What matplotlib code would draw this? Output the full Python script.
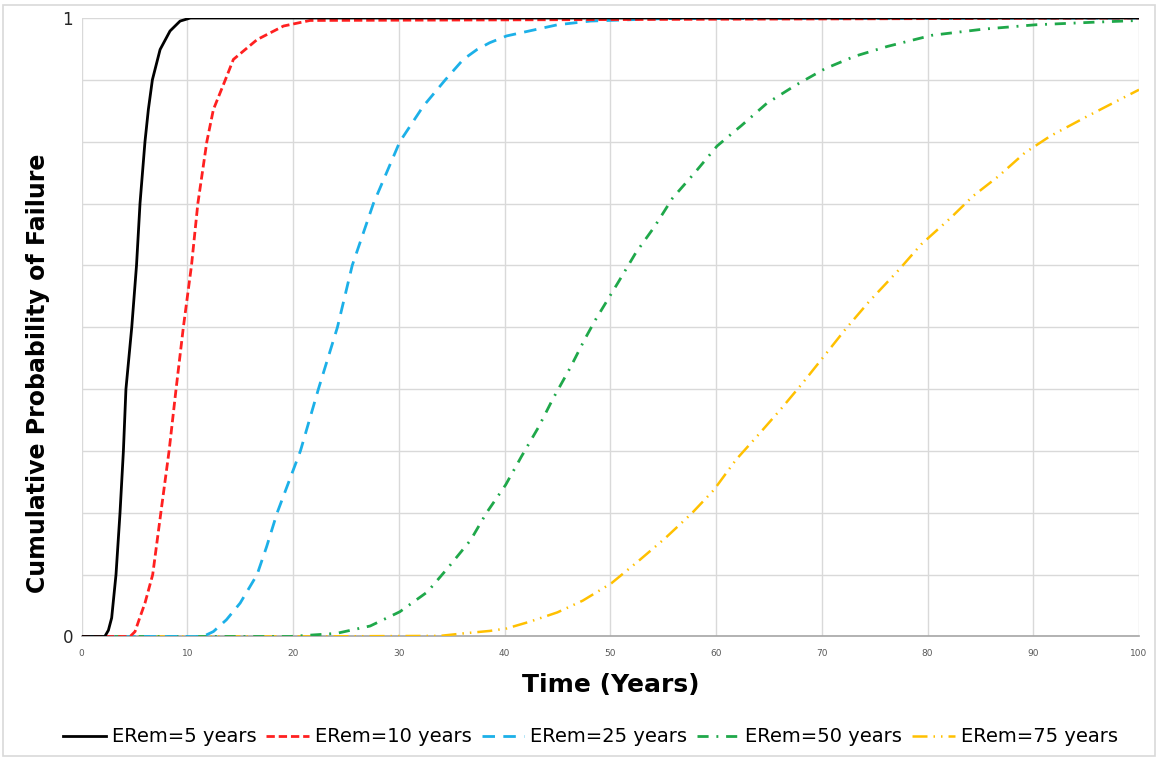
import matplotlib
matplotlib.use("Agg")
import matplotlib.pyplot as plt
from matplotlib.patches import Rectangle

# cumulative probability of failure vs time, one curve per expected remaining life
t_5 = [0, 2.2, 2.54, 2.85, 3.26, 3.64, 3.96, 4.2, 4.75, 5.2, 5.53, 6.0, 6.32, 6.7, 7.43, 8.37, 9.32, 10.3, 100]
p_5 = [0, 0, 0.01, 0.03, 0.1, 0.2, 0.3, 0.4, 0.5, 0.6, 0.7, 0.8, 0.852, 0.9, 0.949, 0.979, 0.995, 1.0, 1.0]

t_10 = [0, 4.6, 5.06, 5.5, 6.0, 6.73, 7.5, 8.28, 8.94, 9.63, 10.4, 11.0, 11.85, 12.47, 13.6,
        14.36, 16.6, 19.1, 21.6, 100]
p_10 = [0, 0, 0.008, 0.03, 0.054, 0.1, 0.2, 0.3, 0.4, 0.5, 0.6, 0.7, 0.8, 0.852, 0.9,
        0.933, 0.965, 0.987, 0.996, 1.0]

t_25 = [0, 11.5, 12.47, 13.7, 15.0, 16.6, 17.5, 18.5, 20.7, 22.4, 24.2, 25.6, 27.6, 30.1, 32.3,
        34.4, 36.1, 37.4, 38.6, 40.2, 45.0, 48.1, 55, 100]
p_25 = [0, 0, 0.008, 0.027, 0.054, 0.1, 0.145, 0.2, 0.3, 0.4, 0.5, 0.6, 0.7, 0.8, 0.857,
        0.9, 0.933, 0.949, 0.96, 0.971, 0.989, 0.995, 0.999, 1.0]

t_50 = [0, 19.7, 24.1, 27.3, 30.1, 32.7, 34.7, 36.8, 38.3, 40.1, 41.6, 43.2, 44.6, 46.2, 47.6,
        48.6, 50.8, 52.4, 54.2, 55.9, 58.0, 60.1, 62.4, 64.8, 67.5, 70.3, 73.1, 76.2, 80.4,
        85.3, 90.2, 95.5, 100]
p_50 = [0, 0, 0.005, 0.017, 0.04, 0.072, 0.112, 0.156, 0.2, 0.245, 0.291, 0.338, 0.385, 0.434, 0.481,
        0.512, 0.574, 0.62, 0.663, 0.709, 0.75, 0.793, 0.826, 0.862, 0.891, 0.918, 0.938, 0.954, 0.972,
        0.982, 0.989, 0.993, 0.996]

t_75 = [0, 19.7, 33.9, 36.1, 38.6, 40.2, 42.4, 45.0, 47.4, 50.1, 52.8, 55.2, 57.7, 59.8, 61.9,
        64.0, 66.1, 68.2, 70.3, 72.2, 74.5, 77.3, 79.4, 82.2, 84.3, 86.7, 89.2, 91.6, 95.1, 97.6, 100]
p_75 = [0, 0, 0.001, 0.005, 0.009, 0.013, 0.024, 0.039, 0.058, 0.086, 0.124, 0.159, 0.199, 0.237, 0.286,
        0.326, 0.367, 0.41, 0.455, 0.496, 0.542, 0.593, 0.634, 0.677, 0.712, 0.744, 0.782, 0.809, 0.841,
        0.863, 0.884]

labels = ["ERem=5 years", "ERem=10 years", "ERem=25 years", "ERem=50 years", "ERem=75 years"]
colors = ["#000000", "#ff2020", "#1cb0e8", "#1fa84a", "#ffc000"]

fig = plt.figure(figsize=(11.58, 7.59), dpi=100)
ax = fig.add_axes([0.0704, 0.1614, 0.9132, 0.8149])

# light frame around the whole chart
fig.patches.append(Rectangle((0.003, 0.004), 0.994, 0.99, transform=fig.transFigure,
                             fill=False, edgecolor="#d9d9d9", linewidth=1.2))

ax.plot(t_5, p_5, color=colors[0], lw=2.0, label=labels[0], zorder=7)
ax.plot(t_10, p_10, color=colors[1], lw=2.0, dashes=(3, 1.4), label=labels[1], zorder=6)
ax.plot(t_25, p_25, color=colors[2], lw=2.0, dashes=(4.5, 3), label=labels[2], zorder=5)
ax.plot(t_50, p_50, color=colors[3], lw=2.0, dashes=(4, 2.8, 0.7, 2.8), label=labels[3], zorder=4)
ax.plot(t_75, p_75, color=colors[4], lw=1.8, dashes=(6, 2.4, 0.6, 2.4, 0.6, 2.4), label=labels[4], zorder=3)

ax.set_xlim(0, 100)
ax.set_ylim(0, 1)
ax.set_xticks(range(0, 101, 10))
ax.set_yticks([0, 1])
ax.set_yticks([i / 10 for i in range(11)], minor=True)
ax.set_yticklabels(["0", "1"])
ax.grid(True, which="both", color="#d9d9d9", linewidth=1.0)
ax.set_axisbelow(True)

for side in ["top", "right", "left"]:
    ax.spines[side].set_visible(False)
ax.spines["bottom"].set_color("#a6a6a6")
ax.spines["bottom"].set_linewidth(1.2)

ax.tick_params(axis="x", labelsize=6.5, labelcolor="#595959", length=0, pad=9)
ax.tick_params(axis="y", which="both", length=0, labelsize=12, labelcolor="#262626", pad=6)

ax.set_xlabel("Time (Years)", fontsize=18, fontweight="bold", labelpad=11)
ax.set_ylabel("Cumulative Probability of Failure", fontsize=17, fontweight="bold")
ax.yaxis.set_label_coords(-0.03, 0.425)

fig.legend(loc="center", bbox_to_anchor=(0.51, 0.029), ncol=5, frameon=False,
           fontsize=14, handlelength=2.2, handletextpad=0.3, columnspacing=0.5)

fig.savefig("out.png", dpi=100)
